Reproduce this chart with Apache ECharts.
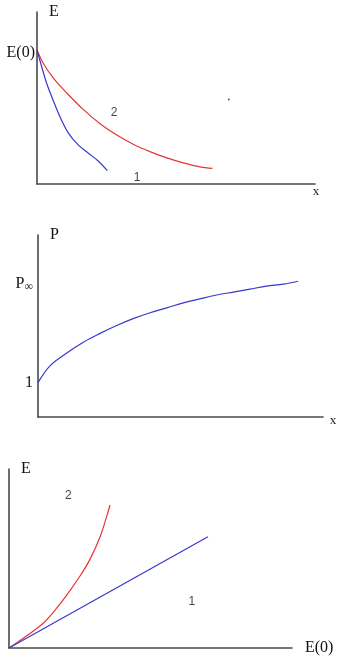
<!DOCTYPE html>
<html>
<head>
<meta charset="utf-8">
<script src="https://cdn.jsdelivr.net/npm/echarts@6/dist/echarts.min.js"></script>
<style>
html,body{margin:0;padding:0;background:#fff;}
#c{width:349px;height:663px;}
</style>
</head>
<body>
<div id="c"></div>
<script>
// ---- Chart 1: E vs x ----
const c1RedX  = [0, 0.23, 0.59, 1.07, 1.67, 2.27, 2.87, 3.46, 4.06, 4.67, 5.26, 5.86, 6.31];
const c1RedY  = [1, 0.90, 0.79, 0.68, 0.555, 0.45, 0.365, 0.297, 0.242, 0.195, 0.158, 0.128, 0.117];
const c1BlueX = [0, 0.17, 0.35, 0.59, 0.83, 1.13, 1.49, 1.85, 2.21, 2.53];
const c1BlueY = [1, 0.875, 0.75, 0.62, 0.50, 0.38, 0.29, 0.23, 0.17, 0.10];
const c1Notes = [["2", 2.77, 0.53], ["1", 3.6, 0.045]];
const c1Dot = [[6.9, 0.63]];
const c1YTicks = [1];
const c1YTickLabels = ["{g| }\n{e|E(0)}"];

// ---- Chart 2: P vs x ----
const c2X = [0, 0.42, 1.01, 1.59, 2.18, 2.76, 3.34, 3.93, 4.52, 5.10, 5.68, 6.27, 6.85, 7.44, 8.02, 8.61, 9.13];
const c2P = [1.0, 1.17, 1.30, 1.41, 1.50, 1.58, 1.65, 1.71, 1.76, 1.81, 1.85, 1.89, 1.92, 1.95, 1.98, 2.00, 2.03];
const c2YTicks = [1, 2];
const c2YTickLabels = ["1", "{p|P}{s|∞}"];

// ---- Chart 3: E vs E(0) ----
const c3RedX  = [0, 0.39, 0.86, 1.21, 1.57, 2.04, 2.51, 2.86, 3.22, 3.45, 3.57];
const c3RedY  = [0, 0.42, 0.95, 1.38, 2.0, 2.95, 4.02, 4.95, 6.22, 7.34, 7.99];
const c3BlueX = [0, 7.03];
const c3BlueY = [0, 6.22];
const c3Notes = [["2", 2.1, 8.5], ["1", 6.46, 2.6]];

const zip = (xs, ys) => xs.map((x, i) => [x, ys[i]]);
const serif = '"Liberation Serif", "DejaVu Serif", serif';
const axisCol = '#4a4a4a';
const RED = '#e63535', BLUE = '#3838cc';

function xAx(idx, max, name, opts) {
  return Object.assign({
    type: 'value', gridIndex: idx, min: 0, max: max,
    axisLine: { show: true, onZero: false, lineStyle: { color: axisCol, width: 1.6 } },
    axisTick: { show: false }, axisLabel: { show: false }, splitLine: { show: false },
    name: name, nameLocation: 'end'
  }, opts);
}
function yAx(idx, min, max, name, opts) {
  return Object.assign({
    type: 'value', gridIndex: idx, min: min, max: max,
    axisLine: { show: true, onZero: false, lineStyle: { color: axisCol, width: 1.6 } },
    axisTick: { show: false }, splitLine: { show: false },
    name: name, nameLocation: 'end', nameGap: 0,
    nameTextStyle: { fontFamily: serif, fontSize: 16, color: '#111', align: 'left', verticalAlign: 'middle', padding: [0, 0, 0, 12] }
  }, opts);
}
function noteSeries(x, y, notes) {
  return {
    type: 'scatter', xAxisIndex: x, yAxisIndex: y, symbolSize: 0, silent: true,
    data: notes.map(n => ({ name: n[0], value: [n[1], n[2]] })),
    label: { show: true, position: 'inside', formatter: p => p.name,
      fontFamily: '"Liberation Sans", Arial, sans-serif', fontSize: 12, color: '#111' }
  };
}
function line(x, y, data, color, smooth) {
  return { type: 'line', xAxisIndex: x, yAxisIndex: y, data: data, smooth: smooth,
    symbol: 'none', lineStyle: { color: color, width: 1.2 }, silent: true };
}

const chart = echarts.init(document.getElementById('c'), null, { renderer: 'canvas' });
chart.setOption({
  animation: false,
  backgroundColor: '#fff',
  grid: [
    { left: 37, top: 12, width: 278, height: 172 },
    { left: 38, top: 235, width: 285, height: 182 },
    { left: 9, top: 469, width: 283, height: 179 }
  ],
  xAxis: [
    xAx(0, 10, 'x', { nameGap: 1, nameTextStyle: { fontFamily: serif, fontSize: 13, color: '#222', align: 'center', verticalAlign: 'top', padding: [1, 0, 0, 0] } }),
    xAx(1, 10, 'x', { nameGap: 10, nameTextStyle: { fontFamily: serif, fontSize: 13, color: '#222', align: 'center', verticalAlign: 'top', padding: [-3, 0, 0, 0] } }),
    xAx(2, 10, 'E(0)', { nameGap: 13, nameTextStyle: { fontFamily: serif, fontSize: 16, color: '#111', align: 'left', verticalAlign: 'middle' } })
  ],
  yAxis: [
    yAx(0, 0, 1.284, 'E', {
      axisLabel: { show: true, customValues: c1YTicks, margin: 2, fontFamily: serif, fontSize: 16, color: '#111',
        formatter: v => c1YTickLabels[c1YTicks.indexOf(v)] || '',
        rich: { g: { fontSize: 6, lineHeight: 6 }, e: { fontFamily: serif, fontSize: 16, lineHeight: 16, color: '#111' } } }
    }),
    yAx(1, 0.65, 2.5, 'P', {
      axisLabel: { show: true, customValues: c2YTicks, margin: 5, fontFamily: serif, fontSize: 16, color: '#111',
        formatter: v => c2YTickLabels[c2YTicks.indexOf(v)] || '',
        rich: { p: { fontFamily: serif, fontSize: 16, color: '#111' }, s: { fontFamily: serif, fontSize: 12, color: '#111', padding: [5, 0, 0, 0] } } }
    }),
    yAx(2, 0, 10, 'E', { axisLabel: { show: false } })
  ],
  series: [
    line(0, 0, zip(c1RedX, c1RedY), RED, 0.35),
    line(0, 0, zip(c1BlueX, c1BlueY), BLUE, 0.35),
    noteSeries(0, 0, c1Notes),
    { type: 'scatter', xAxisIndex: 0, yAxisIndex: 0, data: c1Dot, symbolSize: 2, itemStyle: { color: '#333' }, silent: true },
    line(1, 1, zip(c2X, c2P), BLUE, 0.35),
    line(2, 2, zip(c3RedX, c3RedY), RED, 0.35),
    line(2, 2, zip(c3BlueX, c3BlueY), BLUE, false),
    noteSeries(2, 2, c3Notes)
  ]
});
</script>
</body>
</html>
